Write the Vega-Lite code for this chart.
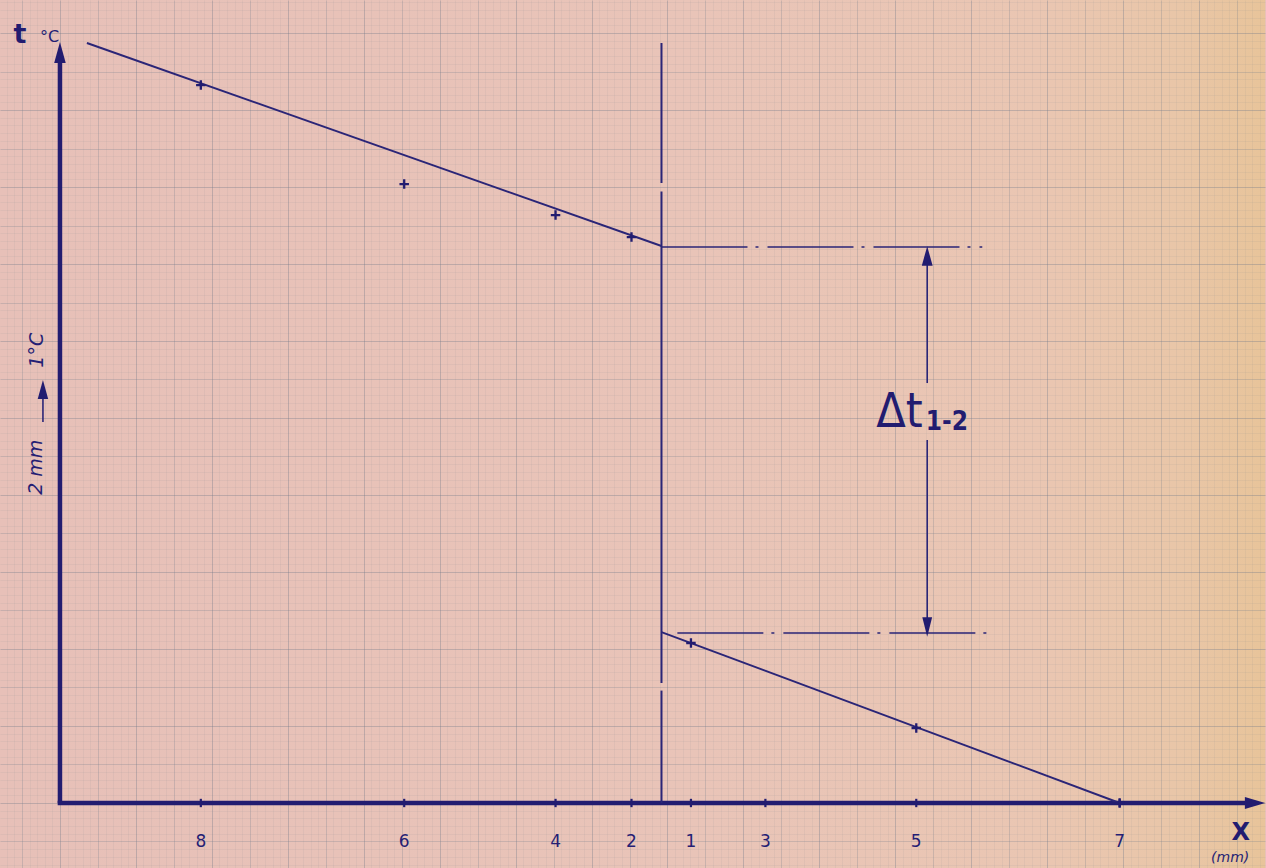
{
  "$schema": "https://vega.github.io/schema/vega-lite/v6.json",
  "width": 1266,
  "height": 868,
  "autosize": {"type": "fit", "contains": "padding"},
  "padding": 0,
  "background": "#e8c2b8",
  "config": {
    "view": {
      "stroke": null,
      "fill": {
        "gradient": "linear", "x1": 0, "y1": 0, "x2": 1, "y2": 0,
        "stops": [
          {"offset": 0, "color": "#e7c0b8"},
          {"offset": 0.55, "color": "#e9c4b8"},
          {"offset": 0.82, "color": "#eac6b2"},
          {"offset": 0.93, "color": "#e9c6a8"},
          {"offset": 1, "color": "#e8c49a"}
        ]
      }
    },
    "font": "DejaVu Sans"
  },
  "data": {"values": [{}]},
  "datasets": {
    "sensors": [
      {"n": "8", "x": 18.55, "t": 46.62},
      {"n": "6", "x": 45.33, "t": 40.19},
      {"n": "4", "x": 65.26, "t": 38.18},
      {"n": "2", "x": 75.26, "t": 36.75},
      {"n": "1", "x": 83.09, "t": 10.39},
      {"n": "3", "x": 92.89, "t": null},
      {"n": "5", "x": 112.76, "t": 4.87},
      {"n": "7", "x": 139.54, "t": 0}
    ],
    "fit": [
      {"side": "wall 1", "x": 3.55, "y": 49.35},
      {"side": "wall 1", "x": 79.21, "y": 36.17},
      {"side": "wall 2", "x": 79.21, "y": 11.1},
      {"side": "wall 2", "x": 139.54, "y": 0}
    ],
    "strokes": [
      {"kind": "axis", "x": 0, "y": 0, "x2": 0, "y2": 48.05},
      {"kind": "axis", "x": -0.3, "y": 0, "x2": 156.3, "y2": 0},
      {"kind": "interface", "x": 79.21, "y": 49.35, "x2": 79.21, "y2": 40.26},
      {"kind": "interface", "x": 79.21, "y": 39.7, "x2": 79.21, "y2": 7.79},
      {"kind": "interface", "x": 79.21, "y": 7.3, "x2": 79.21, "y2": 0},
      {"kind": "dashdot", "x": 79.21, "y": 36.1, "x2": 121.45, "y2": 36.1},
      {"kind": "dashdot", "x": 81.3, "y": 11.04, "x2": 122.1, "y2": 11.04},
      {"kind": "dim", "x": 114.2, "y": 35.26, "x2": 114.2, "y2": 27.27},
      {"kind": "dim", "x": 114.2, "y": 23.57, "x2": 114.2, "y2": 11.88},
      {"kind": "dim", "x": -2.24, "y": 24.74, "x2": -2.24, "y2": 26.5}
    ],
    "heads": [
      {"part": "t axis", "dir": "up", "x": 0, "y": 48.73},
      {"part": "x axis", "dir": "right", "x": 157.37, "y": 0},
      {"part": "delta", "dir": "up", "x": 114.2, "y": 35.52},
      {"part": "delta", "dir": "down", "x": 114.2, "y": 11.43},
      {"part": "scale", "dir": "up", "x": -2.24, "y": 26.85}
    ]
  },
  "resolve": {"axis": {"x": "independent", "y": "independent"}},
  "layer": [
    {
      "data": {"name": "strokes"},
      "transform": [{"filter": "datum.kind === 'axis'"}],
      "mark": {"type": "rule", "color": "#221c70", "strokeWidth": 4.5, "strokeCap": "butt"},
      "encoding": {
        "x": {"field": "x", "type": "quantitative",
          "scale": {"domain": [-7.895, 158.68], "nice": false, "zero": false},
          "axis": {"orient": "top", "grid": true, "tickCount": 166, "labels": false, "ticks": false, "domain": false, "title": null,
            "gridColor": "#747c8c", "gridOpacity": 0.08, "gridWidth": 1}},
        "y": {"field": "y", "type": "quantitative",
          "scale": {"domain": [-4.221, 52.143], "nice": false, "zero": false},
          "axis": {"orient": "right", "grid": true, "tickCount": 113, "labels": false, "ticks": false, "domain": false, "title": null,
            "gridColor": "#747c8c", "gridOpacity": 0.08, "gridWidth": 1}},
        "x2": {"field": "x2"},
        "y2": {"field": "y2"}
      }
    },
    {
      "data": {"name": "strokes"},
      "transform": [{"filter": "datum.kind === 'interface'"}],
      "mark": {"type": "rule", "color": "#2a2577", "strokeWidth": 2},
      "encoding": {
        "x": {"field": "x", "type": "quantitative", "scale": {"domain": [-7.895, 158.68], "nice": false, "zero": false}, "axis": null},
        "y": {"field": "y", "type": "quantitative", "scale": {"domain": [-4.221, 52.143], "nice": false, "zero": false}, "axis": null},
        "x2": {"field": "x2"},
        "y2": {"field": "y2"}
      }
    },
    {
      "data": {"name": "strokes"},
      "transform": [{"filter": "datum.kind === 'dashdot'"}],
      "mark": {"type": "rule", "color": "#2a2577", "strokeWidth": 1.6, "strokeDash": [86, 8, 3, 9]},
      "encoding": {
        "x": {"field": "x", "type": "quantitative", "scale": {"domain": [-7.895, 158.68], "nice": false, "zero": false}, "axis": null},
        "y": {"field": "y", "type": "quantitative", "scale": {"domain": [-4.221, 52.143], "nice": false, "zero": false}, "axis": null},
        "x2": {"field": "x2"},
        "y2": {"field": "y2"}
      }
    },
    {
      "data": {"name": "strokes"},
      "transform": [{"filter": "datum.kind === 'dim'"}],
      "mark": {"type": "rule", "color": "#2a2577", "strokeWidth": 1.6},
      "encoding": {
        "x": {"field": "x", "type": "quantitative", "scale": {"domain": [-7.895, 158.68], "nice": false, "zero": false}, "axis": null},
        "y": {"field": "y", "type": "quantitative", "scale": {"domain": [-4.221, 52.143], "nice": false, "zero": false}, "axis": null},
        "x2": {"field": "x2"},
        "y2": {"field": "y2"}
      }
    },
    {
      "data": {"name": "fit"},
      "mark": {"type": "line", "color": "#2a2577", "strokeWidth": 1.9},
      "encoding": {
        "x": {"field": "x", "type": "quantitative",
          "scale": {"domain": [-7.895, 158.68], "nice": false, "zero": false},
          "axis": {"orient": "bottom", "grid": true, "labels": false, "ticks": false, "domain": false, "title": null,
            "values": [-5, 0, 5, 10, 15, 20, 25, 30, 35, 40, 45, 50, 55, 60, 65, 70, 75, 80, 85, 90, 95, 100, 105, 110, 115, 120, 125, 130, 135, 140, 145, 150, 155],
            "gridColor": "#747c8c", "gridWidth": 1,
            "gridOpacity": {"condition": {"test": "datum.value % 10 === 0", "value": 0.3}, "value": 0.2}}},
        "y": {"field": "y", "type": "quantitative",
          "scale": {"domain": [-4.221, 52.143], "nice": false, "zero": false},
          "axis": {"orient": "left", "grid": true, "labels": false, "ticks": false, "domain": false, "title": null,
            "values": [-2.5, 0, 2.5, 5, 7.5, 10, 12.5, 15, 17.5, 20, 22.5, 25, 27.5, 30, 32.5, 35, 37.5, 40, 42.5, 45, 47.5, 50],
            "gridColor": "#747c8c", "gridWidth": 1,
            "gridOpacity": {"condition": {"test": "datum.value % 5 === 0", "value": 0.3}, "value": 0.2}}},
        "detail": {"field": "side", "type": "nominal"}
      }
    },
    {
      "data": {"name": "sensors"},
      "transform": [{"filter": "datum.t != null"}],
      "mark": {"type": "point", "shape": "M-1,0H1M0,-1V1", "filled": false, "color": "#221c70", "strokeWidth": 2.3, "size": 90, "opacity": 1},
      "encoding": {
        "x": {"field": "x", "type": "quantitative", "scale": {"domain": [-7.895, 158.68], "nice": false, "zero": false}, "axis": null},
        "y": {"field": "t", "type": "quantitative", "scale": {"domain": [-4.221, 52.143], "nice": false, "zero": false}, "axis": null}
      }
    },
    {
      "data": {"name": "sensors"},
      "mark": {"type": "point", "shape": "M0,-1V1", "filled": false, "color": "#221c70", "strokeWidth": 2.2, "size": 70, "opacity": 1},
      "encoding": {
        "x": {"field": "x", "type": "quantitative", "scale": {"domain": [-7.895, 158.68], "nice": false, "zero": false}, "axis": null},
        "y": {"datum": 0, "type": "quantitative", "scale": {"domain": [-4.221, 52.143], "nice": false, "zero": false}, "axis": null}
      }
    },
    {
      "data": {"name": "sensors"},
      "mark": {"type": "text", "fontSize": 17, "align": "center", "baseline": "alphabetic", "color": "#241e74"},
      "encoding": {
        "x": {"field": "x", "type": "quantitative", "scale": {"domain": [-7.895, 158.68], "nice": false, "zero": false}, "axis": null},
        "y": {"datum": -2.86, "type": "quantitative", "scale": {"domain": [-4.221, 52.143], "nice": false, "zero": false}, "axis": null},
        "text": {"field": "n"}
      }
    },
    {
      "data": {"name": "heads"},
      "mark": {"type": "point", "filled": true, "color": "#221c70", "opacity": 1},
      "encoding": {
        "x": {"field": "x", "type": "quantitative", "scale": {"domain": [-7.895, 158.68], "nice": false, "zero": false}, "axis": null},
        "y": {"field": "y", "type": "quantitative", "scale": {"domain": [-4.221, 52.143], "nice": false, "zero": false}, "axis": null},
        "shape": {"field": "dir", "type": "nominal", "legend": null,
          "scale": {"domain": ["up", "down", "right"], "range": ["M0,-1L0.55,1L-0.55,1Z", "M0,1L0.5,-1L-0.5,-1Z", "M1,0L-1,-0.6L-1,0.6Z"]}},
        "size": {"field": "part", "type": "nominal", "legend": null,
          "scale": {"domain": ["t axis", "x axis", "delta", "scale"], "range": [441, 361, 225, 144]}}
      }
    },
    {
      "mark": {"type": "text", "text": "t", "fontSize": 27, "fontWeight": "bold", "align": "center", "baseline": "alphabetic", "color": "#221c70"},
      "encoding": {
        "x": {"datum": -5.26, "type": "quantitative", "scale": {"domain": [-7.895, 158.68], "nice": false, "zero": false}, "axis": null},
        "y": {"datum": 49.35, "type": "quantitative", "scale": {"domain": [-4.221, 52.143], "nice": false, "zero": false}, "axis": null}
      }
    },
    {
      "mark": {"type": "text", "text": "°C", "fontSize": 16, "align": "left", "baseline": "alphabetic", "color": "#241e74"},
      "encoding": {
        "x": {"datum": -2.63, "type": "quantitative", "scale": {"domain": [-7.895, 158.68], "nice": false, "zero": false}, "axis": null},
        "y": {"datum": 49.4, "type": "quantitative", "scale": {"domain": [-4.221, 52.143], "nice": false, "zero": false}, "axis": null}
      }
    },
    {
      "mark": {"type": "text", "text": "2 mm", "fontSize": 19, "fontStyle": "italic", "angle": 270, "align": "center", "baseline": "middle", "color": "#241e74"},
      "encoding": {
        "x": {"datum": -3.16, "type": "quantitative", "scale": {"domain": [-7.895, 158.68], "nice": false, "zero": false}, "axis": null},
        "y": {"datum": 21.8, "type": "quantitative", "scale": {"domain": [-4.221, 52.143], "nice": false, "zero": false}, "axis": null}
      }
    },
    {
      "mark": {"type": "text", "text": "1°C", "fontSize": 19, "fontStyle": "italic", "angle": 270, "align": "center", "baseline": "middle", "color": "#241e74"},
      "encoding": {
        "x": {"datum": -3.03, "type": "quantitative", "scale": {"domain": [-7.895, 158.68], "nice": false, "zero": false}, "axis": null},
        "y": {"datum": 29.4, "type": "quantitative", "scale": {"domain": [-4.221, 52.143], "nice": false, "zero": false}, "axis": null}
      }
    },
    {
      "mark": {"type": "text", "text": "Δt", "font": "DejaVu Sans Condensed, DejaVu Sans", "fontSize": 48, "align": "left", "baseline": "alphabetic", "color": "#221c70"},
      "encoding": {
        "x": {"datum": 107.5, "type": "quantitative", "scale": {"domain": [-7.895, 158.68], "nice": false, "zero": false}, "axis": null},
        "y": {"datum": 24.4, "type": "quantitative", "scale": {"domain": [-4.221, 52.143], "nice": false, "zero": false}, "axis": null}
      }
    },
    {
      "mark": {"type": "text", "text": "1-2", "font": "DejaVu Sans Condensed, DejaVu Sans", "fontSize": 26, "fontWeight": "bold", "align": "left", "baseline": "alphabetic", "color": "#221c70"},
      "encoding": {
        "x": {"datum": 114.0, "type": "quantitative", "scale": {"domain": [-7.895, 158.68], "nice": false, "zero": false}, "axis": null},
        "y": {"datum": 24.2, "type": "quantitative", "scale": {"domain": [-4.221, 52.143], "nice": false, "zero": false}, "axis": null}
      }
    },
    {
      "mark": {"type": "text", "text": "X", "fontSize": 24, "fontWeight": "bold", "align": "center", "baseline": "alphabetic", "color": "#221c70"},
      "encoding": {
        "x": {"datum": 155.5, "type": "quantitative", "scale": {"domain": [-7.895, 158.68], "nice": false, "zero": false}, "axis": null},
        "y": {"datum": -2.4, "type": "quantitative", "scale": {"domain": [-4.221, 52.143], "nice": false, "zero": false}, "axis": null}
      }
    },
    {
      "mark": {"type": "text", "text": "(mm)", "fontSize": 14, "fontStyle": "italic", "align": "center", "baseline": "alphabetic", "color": "#241e74"},
      "encoding": {
        "x": {"datum": 154.1, "type": "quantitative", "scale": {"domain": [-7.895, 158.68], "nice": false, "zero": false}, "axis": null},
        "y": {"datum": -3.83, "type": "quantitative", "scale": {"domain": [-4.221, 52.143], "nice": false, "zero": false}, "axis": null}
      }
    }
  ]
}
